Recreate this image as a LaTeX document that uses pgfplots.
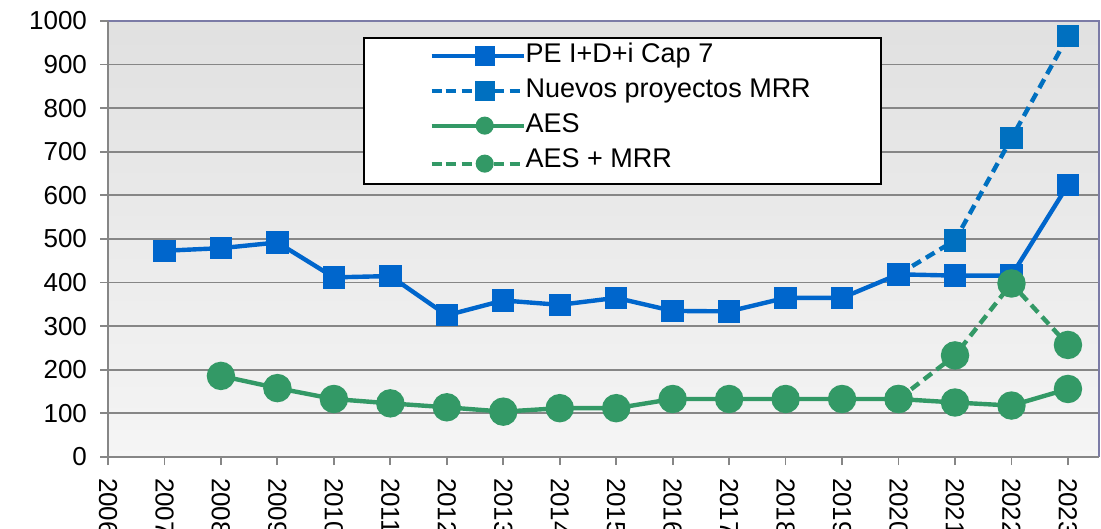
\documentclass[border=0pt]{standalone}
\usepackage{pgfplots}
\pgfplotsset{compat=1.18}
\usepackage{fontspec}
\setmainfont{Liberation Sans}
\usetikzlibrary{calc}
\definecolor{pe}{HTML}{0066CC}
\definecolor{mrr}{HTML}{0070C0}
\definecolor{aes}{HTML}{339966}
\definecolor{gridc}{HTML}{868686}
\definecolor{frame}{HTML}{7B7BA6}
\begin{document}
\begin{tikzpicture}
\begin{axis}[
  scale only axis, width=495.5pt, height=218pt,
  xmin=2006, xmax=2023.55, ymin=0, ymax=1000,
  xtick={2006,...,2023}, ytick={0,100,...,1000},
  xticklabel={\pgfmathprintnumber[1000 sep={}]{\tick}},
  /pgf/number format/assume math mode=true,
  /pgf/number format/1000 sep={},
  tick label style={font=\fontsize{13}{15}\selectfont},
  xticklabel style={rotate=-90, anchor=west, xshift=3pt},
  yticklabel style={xshift=-3pt},
  xtick pos=left, ytick pos=left, tick align=outside,
  major tick length=4pt,
  tick style={gridc, line width=0.9pt},
  ymajorgrids, major grid style={gridc, line width=0.9pt},
  axis line style={draw=none},
  axis background/.style={top color=black!12, bottom color=black!4},
  after end axis/.code={
    \draw[frame, line width=1pt] (rel axis cs:0,1) -- (rel axis cs:1,1) -- (rel axis cs:1,0);
    \draw[gridc, line width=1pt] (rel axis cs:0,1) -- (rel axis cs:0,0) -- (rel axis cs:1,0);
    \coordinate (bl) at (rel axis cs:0,0);
    \coordinate (tr) at (rel axis cs:1,1);
  },
  legend style={at={(rel axis cs:0.257,0.963)}, anchor=north west,
    draw=black, line width=1pt, fill=white, inner xsep=33pt, inner ysep=0pt,
    font=\fontsize{13.5}{15}\selectfont,
    /tikz/every odd column/.append style={column sep=-2pt},
    nodes={text height=9.5pt, text depth=3pt, inner ysep=2.5pt}},
  legend cell align=left,
  legend image code/.code={\path (-7pt,0pt) -- (0pt,0pt); \draw[mark repeat=2,mark phase=2,#1] plot coordinates {(0pt,0pt) (19.5pt,0pt) (39pt,0pt)};},
]
\addlegendimage{pe, line width=2pt, mark=square*, mark size=4pt, mark options={solid}}
\addlegendentry{PE I+D+i Cap 7}
\addlegendimage{mrr, line width=2pt, dash pattern=on 5pt off 3pt, mark=square*, mark size=4pt, mark options={solid}}
\addlegendentry{Nuevos proyectos MRR}
\addlegendimage{aes, line width=2pt, mark=*, mark size=3.5pt, mark options={solid}}
\addlegendentry{AES}
\addlegendimage{aes, line width=2pt, dash pattern=on 5pt off 3pt, mark=*, mark size=3.5pt, mark options={solid}}
\addlegendentry[text depth=6pt]{AES + MRR}

\addplot[forget plot, mrr, line width=2.2pt, dash pattern=on 5pt off 3pt, mark=square*, mark size=4.5pt, mark options={solid}]
coordinates {(2020,419) (2021,497) (2022,731) (2023,965)};
\addplot[forget plot, pe, line width=2.2pt, mark=square*, mark size=4.5pt]
coordinates {(2007,473) (2008,479) (2009,492) (2010,412) (2011,415) (2012,325) (2013,359) (2014,349) (2015,365) (2016,335) (2017,334) (2018,365) (2019,365) (2020,419) (2021,416) (2022,416) (2023,624)};
\addplot[forget plot, aes, line width=2.2pt, dash pattern=on 5pt off 3pt, mark=*, mark size=6pt, mark options={solid}]
coordinates {(2020,133) (2021,233) (2022,398) (2023,257)};
\addplot[forget plot, aes, line width=2.2pt, mark=*, mark size=6pt]
coordinates {(2008,186) (2009,158) (2010,133) (2011,123) (2012,114) (2013,104) (2014,112) (2015,112) (2016,133) (2017,133) (2018,133) (2019,133) (2020,133) (2021,125) (2022,118) (2023,156)};
\end{axis}
\pgfresetboundingbox
\path[use as bounding box] ($(bl)+(-54pt,-36pt)$) rectangle ($(tr)+(1pt,10.5pt)$);
\end{tikzpicture}
\end{document}
